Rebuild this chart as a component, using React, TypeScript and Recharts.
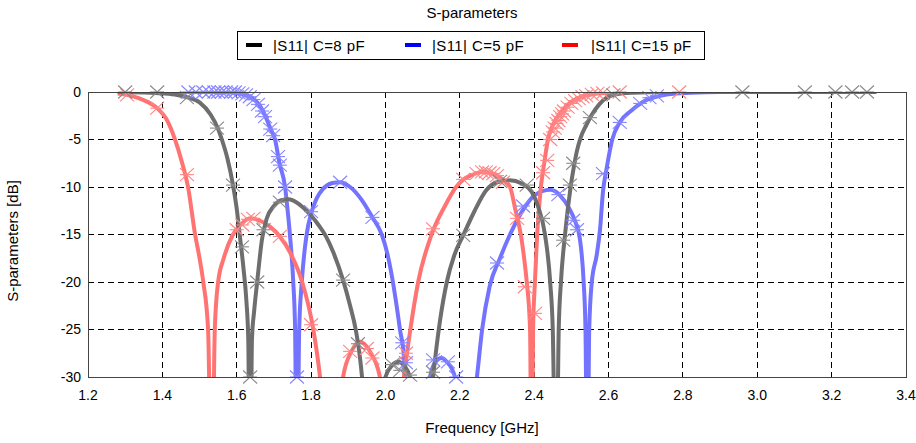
import React from 'react';
import { ComposedChart, Line, Scatter, XAxis, YAxis, CartesianGrid } from 'recharts';

// [frequency GHz, |S11| dB]; values below -30 are the clipped notches
const grayCurve: [number, number][] = [
  [1.28, 0], [1.35, -0.05], [1.4, -0.15], [1.44, -0.32], [1.47, -0.6], [1.5, -1.1], [1.53, -2.4],
  [1.55, -3.9], [1.56, -5], [1.575, -7], [1.59, -9.8], [1.6, -12.3], [1.608, -15], [1.618, -18.5],
  [1.626, -22], [1.631, -26], [1.636, -45], [1.641, -26], [1.647, -23], [1.655, -20], [1.668, -15.5],
  [1.68, -13.4], [1.7, -12], [1.72, -11.4], [1.74, -11.3], [1.76, -11.6], [1.78, -12.2], [1.8, -13],
  [1.82, -14], [1.84, -15.2], [1.86, -16.9], [1.886, -19.8], [1.905, -22.5], [1.92, -25], [1.93, -27.5],
  [1.937, -30], [1.948, -36], [1.965, -45], [1.985, -35], [2.0, -30], [2.017, -28.8], [2.034, -28.4],
  [2.05, -28.8], [2.066, -30], [2.08, -35], [2.097, -45], [2.115, -35], [2.128, -30], [2.147, -24],
  [2.165, -20], [2.185, -17.2], [2.209, -15.1], [2.24, -12.5], [2.27, -10.4], [2.3, -9.5], [2.335, -9.3],
  [2.365, -9.6], [2.393, -10.5], [2.41, -12], [2.429, -15], [2.443, -20], [2.45, -25], [2.459, -45],
  [2.466, -25], [2.472, -20], [2.483, -15], [2.498, -10], [2.507, -7.8], [2.515, -6.2], [2.525, -4.8],
  [2.54, -3.5], [2.555, -2.4], [2.575, -1.3], [2.595, -0.6], [2.62, -0.25], [2.66, -0.07], [2.75, 0],
  [3.32, 0],
];

const blueCurve: [number, number][] = [
  [1.28, 0], [1.5, 0], [1.57, -0.03], [1.6, -0.1], [1.63, -0.4], [1.65, -0.9], [1.665, -1.6],
  [1.68, -2.8], [1.69, -3.8], [1.703, -5], [1.715, -7.5], [1.73, -10], [1.737, -12.5], [1.743, -15],
  [1.752, -20], [1.757, -25], [1.762, -45], [1.768, -25], [1.775, -20], [1.788, -15], [1.8, -12.8],
  [1.815, -11.2], [1.832, -10.2], [1.855, -9.6], [1.878, -9.5], [1.905, -10], [1.935, -11.3],
  [1.965, -13.2], [1.99, -15], [2.005, -17], [2.02, -20], [2.03, -22.5], [2.039, -25], [2.05, -28],
  [2.06, -45], [2.09, -40], [2.105, -35], [2.12, -30], [2.135, -28.4], [2.15, -28], [2.165, -28.4],
  [2.187, -30], [2.2, -35], [2.215, -45], [2.23, -35], [2.246, -30], [2.26, -25], [2.28, -20.5],
  [2.308, -17.5], [2.335, -15], [2.37, -12.4], [2.4, -10.9], [2.443, -10.3], [2.47, -10.9],
  [2.495, -12.3], [2.51, -13.6], [2.523, -15.5], [2.533, -20], [2.538, -25], [2.543, -45], [2.548, -25],
  [2.555, -20], [2.568, -17.2], [2.577, -14.5], [2.585, -10.5], [2.595, -8], [2.61, -5], [2.63, -3.2],
  [2.66, -2], [2.69, -1.1], [2.72, -0.6], [2.76, -0.25], [2.82, -0.08], [2.9, 0], [3.32, 0],
];

const redCurve: [number, number][] = [
  [1.28, -0.15], [1.305, -0.3], [1.34, -0.7], [1.386, -1.7], [1.41, -2.8], [1.434, -5], [1.452, -7.3],
  [1.469, -10], [1.488, -15], [1.5, -17.5], [1.51, -20], [1.523, -25], [1.533, -45], [1.541, -25],
  [1.55, -20], [1.565, -17.5], [1.59, -15], [1.61, -14], [1.636, -13.3], [1.66, -13.5], [1.69, -14.2],
  [1.716, -15.2], [1.745, -17], [1.776, -20], [1.806, -25], [1.824, -30], [1.84, -37], [1.855, -45],
  [1.87, -37], [1.886, -30], [1.91, -27.2], [1.932, -26.3], [1.958, -27.3], [1.985, -30], [2.0, -36],
  [2.018, -45], [2.035, -36], [2.05, -30], [2.067, -25], [2.088, -20], [2.124, -15], [2.16, -12],
  [2.19, -10], [2.21, -9.2], [2.235, -8.7], [2.262, -8.4], [2.295, -8.7], [2.318, -9.3], [2.335, -10],
  [2.35, -12.5], [2.364, -15], [2.373, -17.5], [2.38, -20], [2.389, -25], [2.393, -45], [2.397, -25],
  [2.402, -20], [2.408, -15], [2.418, -10], [2.427, -7.5], [2.437, -5], [2.45, -3.5], [2.47, -2.2],
  [2.5, -1.0], [2.53, -0.45], [2.57, -0.15], [2.62, -0.04], [2.7, 0], [3.32, 0],
];

// simulator sample points (star markers)
const grayMarks: [number, number][] = [
  [1.3, 0], [1.386, 0], [1.466, -0.6], [1.547, -3.8], [1.59, -9.8], [1.614, -16.3], [1.636, -30],
  [1.655, -20], [1.672, -14.5], [1.716, -11.6], [1.886, -19.8], [1.926, -26.5], [2.018, -28.7],
  [2.04, -29.3], [2.066, -29.8], [2.128, -29.5], [2.209, -15.1], [2.308, -9.4], [2.38, -9.8],
  [2.424, -13.3], [2.478, -15.6], [2.496, -9.8], [2.505, -7.5], [2.55, -2.7], [2.613, -0.3],
  [2.96, 0], [3.128, 0], [3.21, 0], [3.255, 0], [3.295, 0],
];

const blueMarks: [number, number][] = [
  [1.47, 0], [1.49, 0], [1.51, 0], [1.525, 0], [1.54, 0], [1.55, 0], [1.56, 0], [1.57, 0], [1.585, 0],
  [1.595, 0], [1.605, -0.1], [1.615, -0.2], [1.625, -0.3], [1.635, -0.5], [1.645, -0.8], [1.657, -1.3],
  [1.668, -2.0], [1.676, -2.6], [1.69, -3.9], [1.698, -4.6], [1.711, -6.8], [1.716, -7.7], [1.73, -10],
  [1.762, -30], [1.8, -12.6], [1.878, -9.5], [1.965, -13.2], [2.045, -26.4], [2.055, -28.5],
  [2.128, -28.2], [2.168, -28.4], [2.19, -30], [2.3, -18], [2.37, -12], [2.465, -10.8], [2.505, -13.5],
  [2.515, -14.5], [2.585, -8.6], [2.63, -3.2], [2.685, -1.2], [2.71, -0.6], [2.73, -0.4],
];

const redMarks: [number, number][] = [
  [1.305, -0.3], [1.386, -1.7], [1.466, -8.7], [1.6, -14.5], [1.615, -14], [1.63, -13.4], [1.645, -13.3],
  [1.716, -15.2], [1.8, -24.5], [1.905, -27.3], [1.95, -27], [1.965, -28], [2.055, -27.5], [2.128, -14.4],
  [2.209, -9.2], [2.245, -8.6], [2.26, -8.4], [2.27, -8.4], [2.28, -8.5], [2.29, -8.6], [2.3, -8.8],
  [2.316, -9.5], [2.354, -13.3], [2.375, -20.5], [2.402, -23.3], [2.424, -8.5], [2.435, -7.2],
  [2.443, -5], [2.45, -4.2], [2.455, -3.8], [2.46, -3.3], [2.465, -3], [2.47, -2.6], [2.475, -2.3],
  [2.48, -2], [2.49, -1.6], [2.5, -1.2], [2.51, -0.9], [2.52, -0.7], [2.53, -0.5], [2.54, -0.4],
  [2.555, -0.25], [2.57, -0.15], [2.585, -0.1], [2.63, 0], [2.79, 0],
];

const xTicks = [1.2, 1.4, 1.6, 1.8, 2.0, 2.2, 2.4, 2.6, 2.8, 3.0, 3.2, 3.4];
const yTicks = [0, -5, -10, -15, -20, -25, -30];

const seriesNames = ['|S11| C=8 pF', '|S11| C=5 pF', '|S11| C=15 pF'];

const toRows = (pts: [number, number][]) => pts.map(([f, db]) => ({ f, db }));

const starShape = (color: string) => (props: any) => {
  const { cx, cy } = props;
  if (cx == null || cy == null) return <g />;
  const w = 7;
  const h = 6.5;
  return (
    <g stroke={color} strokeWidth={1.1} fill="none">
      <line x1={cx - w} y1={cy} x2={cx + w} y2={cy} />
      <line x1={cx - w} y1={cy - h} x2={cx + w} y2={cy + h} />
      <line x1={cx - w} y1={cy + h} x2={cx + w} y2={cy - h} />
    </g>
  );
};

const FONT = 'Arial, "Liberation Sans", sans-serif';

export default function App() {
  const legendItems = [
    { name: seriesNames[0], color: '#000000', swatch: 245, text: 272 },
    { name: seriesNames[1], color: '#0000ff', swatch: 404, text: 431 },
    { name: seriesNames[2], color: '#ff0000', swatch: 561, text: 590 },
  ];

  return (
    <div style={{ position: 'absolute', left: 0, top: 0, width: 916, height: 443, background: '#fff', fontFamily: FONT }}>
      <div style={{ position: 'absolute', left: 0, width: 944, top: 4, textAlign: 'center', fontSize: 15, color: '#000' }}>
        S-parameters
      </div>
      <div style={{ position: 'absolute', left: 237, top: 31, width: 468, height: 29, border: '1px solid #000', boxSizing: 'border-box' }}>
        {legendItems.map((it) => (
          <React.Fragment key={it.name}>
            <div style={{ position: 'absolute', left: it.swatch - 237, top: 11, width: 16, height: 4, background: it.color }} />
            <div style={{ position: 'absolute', left: it.text - 237, top: 5, fontSize: 15, whiteSpace: 'nowrap', letterSpacing: 0.4 }}>{it.name}</div>
          </React.Fragment>
        ))}
      </div>

      <ComposedChart width={916} height={443} margin={{ top: 92, right: 10, bottom: 36, left: 0 }}>
        <CartesianGrid stroke="#000" strokeDasharray="6 4" shapeRendering="crispEdges" />
        <XAxis
          dataKey="f"
          type="number"
          domain={[1.2, 3.4]}
          ticks={xTicks}
          tickFormatter={(v: number) => v.toFixed(1)}
          height={30}
          tickLine={false}
          tickSize={0}
          tickMargin={13}
          axisLine={false}
          tick={{ fill: '#000', fontSize: 14, fontFamily: FONT }}
        />
        <YAxis
          type="number"
          domain={[-30, 0]}
          ticks={yTicks}
          allowDataOverflow
          width={88}
          tickLine={false}
          tickSize={0}
          tickMargin={7}
          axisLine={false}
          tick={{ fill: '#000', fontSize: 14, fontFamily: FONT }}
        />
        <YAxis yAxisId="m" type="number" domain={[-30, 0]} hide />
        <Line data={toRows(blueCurve)} dataKey="db" type="monotone" stroke="#7373ff" strokeWidth={4} dot={false} isAnimationActive={false} />
        <Line data={toRows(redCurve)} dataKey="db" type="monotone" stroke="#ff7373" strokeWidth={4} dot={false} isAnimationActive={false} />
        <Line data={toRows(grayCurve)} dataKey="db" type="monotone" stroke="#6e6e6e" strokeWidth={4} dot={false} isAnimationActive={false} />
        <Scatter data={toRows(blueMarks)} dataKey="db" yAxisId="m" shape={starShape('#8585ff')} isAnimationActive={false} />
        <Scatter data={toRows(redMarks)} dataKey="db" yAxisId="m" shape={starShape('#ff8585')} isAnimationActive={false} />
        <Scatter data={toRows(grayMarks)} dataKey="db" yAxisId="m" shape={starShape('#8a8a8a')} isAnimationActive={false} />
      </ComposedChart>

      <div style={{ position: 'absolute', left: 88, top: 92, width: 819, height: 286, border: '1px solid #444', boxSizing: 'border-box', pointerEvents: 'none' }} />

      <div style={{ position: 'absolute', left: 0, width: 964, top: 419, textAlign: 'center', fontSize: 15 }}>
        Frequency [GHz]
      </div>
      <div
        style={{
          position: 'absolute', left: 12, top: 241, fontSize: 15, whiteSpace: 'nowrap',
          transform: 'translate(-50%, -50%) rotate(-90deg)',
        }}
      >
        S-parameters [dB]
      </div>
    </div>
  );
}
